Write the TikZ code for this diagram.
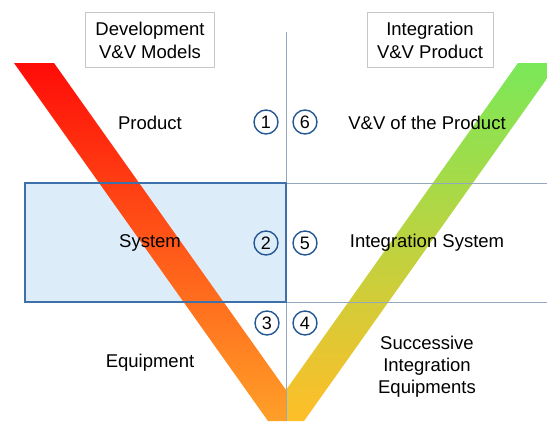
\documentclass[tikz,border=0pt]{standalone}
\usepackage{fontspec}
\setmainfont{Liberation Sans}
\usepackage{tikz}
\usetikzlibrary{shapes}
\definecolor{boxblue}{RGB}{220,237,249}
\definecolor{edgeblue}{RGB}{62,112,170}
\definecolor{guide}{RGB}{150,168,192}
\definecolor{numblue}{RGB}{38,88,148}
\definecolor{devtop}{RGB}{255,12,8}
\definecolor{devmid}{RGB}{255,80,28}
\definecolor{devbot}{RGB}{255,160,40}
\definecolor{inttop}{RGB}{122,232,88}
\definecolor{intmid}{RGB}{196,226,48}
\definecolor{intbot}{RGB}{255,190,40}
\tikzstyle{hdr}=[draw=black!22,line width=0.8pt,align=center,inner xsep=10pt,minimum height=55pt,font=\fontsize{18.5}{23}\selectfont]
\tikzstyle{txt}=[align=center,font=\fontsize{18.5}{22}\selectfont]
\tikzstyle{num}=[circle,draw=numblue,line width=1.4pt,inner sep=0pt,minimum size=24pt,font=\fontsize{18}{18}\selectfont]
\tikzstyle{guideline}=[draw=guide,line width=0.8pt]
\tikzset{every picture/.style={
    x=1pt,y=-1pt
  }
}

\begin{document}
\begin{tikzpicture}
      \fill[white] (0,0) rectangle (547,421);
      \useasboundingbox (0,0) rectangle (547,421);
      \clip (0,0) rectangle (547,421);
      \fill[boxblue] (25,183) rectangle (286,302);
      \shade[top color=devtop,middle color=devmid,bottom color=devbot]
        (14,63) -- (54,63) -- (286,390) -- (286,421) -- (268,421) -- cycle;
      \shade[top color=inttop,middle color=intmid,bottom color=intbot]
        (558,63) -- (518,63) -- (286,390) -- (286,421) -- (304,421) -- cycle;
      \coordinate (vtop) at (286,32);
      \coordinate (vbot) at (286,421);
      \coordinate (hone) at (547,183);
      \coordinate (htwo) at (547,302);
      \coordinate (bxa) at (25,183);
      \coordinate (bxb) at (286,302);
      \draw[guideline] (vtop)--(vbot);
      \draw[guideline] (286,183)--(hone);
      \draw[guideline] (286,302)--(htwo);
      \draw[draw=edgeblue,line width=1.3pt] (bxa) rectangle (bxb);
      \node[hdr] at (150,40) (dev) {Development\\V\&V Models};
      \node[hdr] at (430,40) (int) {Integration\\V\&V Product};
      \node[txt] at (150,123) (prod) {Product};
      \node[txt] at (150,243) (sys) {System};
      \node[txt] at (150,363) (equ) {Equipment};
      \node[txt] at (427,123) (vvprod) {V\&V of the Product};
      \node[txt] at (427,243) (intsys) {Integration System};
      \node[txt] at (427,367) (succ) {Successive\\Integration\\Equipments};
      \node[num] at (266,122) (n1) {1};
      \node[num] at (305,122) (n6) {6};
      \node[num] at (266,243) (n2) {2};
      \node[num] at (305,243) (n5) {5};
      \node[num] at (267,323) (n3) {3};
      \node[num] at (305,323) (n4) {4};
    \end{tikzpicture}
\end{document}
